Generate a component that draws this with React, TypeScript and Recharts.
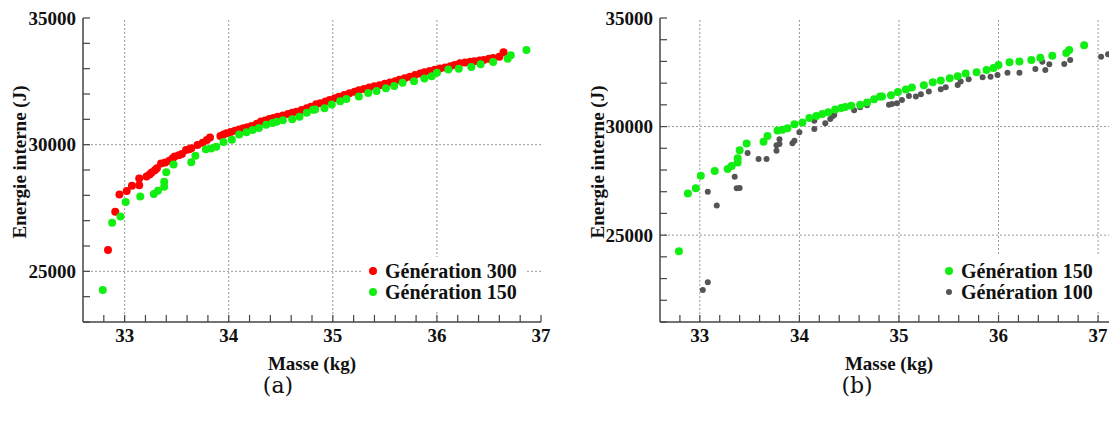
import React from 'react';
import { ScatterChart, Scatter, XAxis, YAxis, ReferenceLine, Legend } from 'recharts';

// Génération 300 (red, panel a)
const GEN300_MASS = [
  32.84, 32.91, 32.95, 33.02, 33.07, 33.14, 33.14, 33.21, 33.24, 33.26, 33.29, 33.31, 33.35, 33.39, 33.43,
  33.46, 33.48, 33.52, 33.55, 33.59, 33.62, 33.64, 33.7, 33.75, 33.79, 33.82, 33.92, 33.95, 33.98, 34.02,
  34.06, 34.1, 34.14, 34.18, 34.22, 34.27, 34.31, 34.35, 34.39, 34.43, 34.47, 34.52, 34.57, 34.61, 34.65,
  34.7, 34.75, 34.79, 34.84, 34.88, 34.93, 34.97, 35.02, 35.06, 35.11, 35.16, 35.21, 35.25, 35.3, 35.35,
  35.4, 35.45, 35.5, 35.55, 35.6, 35.64, 35.69, 35.74, 35.79, 35.84, 35.88, 35.93, 35.98, 36.03, 36.08,
  36.13, 36.17, 36.22, 36.27, 36.32, 36.36, 36.41, 36.45, 36.5, 36.54, 36.6, 36.64,
];
const GEN300_ENERGY = [
  25840, 27355, 28030, 28170, 28380, 28660, 28400, 28740, 28820, 28900, 28990, 29070, 29260, 29300, 29370,
  29450, 29530, 29580, 29630, 29790, 29820, 29860, 29990, 30080, 30180, 30280, 30340, 30400, 30450, 30500,
  30550, 30600, 30650, 30690, 30740, 30830, 30910, 30950, 31010, 31050, 31100, 31150, 31210, 31260, 31300,
  31370, 31440, 31500, 31600, 31630, 31700, 31760, 31830, 31890, 31960, 32030, 32090, 32150, 32200, 32260,
  32310, 32350, 32400, 32450, 32500, 32560, 32620, 32680, 32750, 32810, 32860, 32910, 32960, 33010, 33050,
  33100, 33140, 33210, 33240, 33270, 33290, 33320, 33340, 33390, 33420, 33470, 33650,
];

// Génération 150 (green, both panels)
const GEN150_MASS = [
  32.79, 32.88, 32.96, 33.01, 33.15, 33.28, 33.32, 33.38, 33.38, 33.4, 33.47, 33.64, 33.68, 33.78, 33.83,
  33.88, 33.95, 34.03, 34.1, 34.17, 34.23, 34.29, 34.36, 34.42, 34.46, 34.52, 34.61, 34.68, 34.75, 34.81,
  34.83, 34.92, 34.99, 35.07, 35.13, 35.25, 35.34, 35.42, 35.51, 35.59, 35.67, 35.78, 35.88, 35.95, 36.0,
  36.11, 36.21, 36.33, 36.42, 36.54, 36.68, 36.71, 36.86,
];
const GEN150_ENERGY = [
  24260, 26920, 27160, 27740, 27950, 28050, 28185, 28340, 28540, 28910, 29220, 29305, 29567, 29815, 29850,
  29920, 30110, 30190, 30400, 30490, 30580, 30660, 30790, 30860, 30900, 30960, 31000, 31105, 31260, 31380,
  31390, 31440, 31590, 31710, 31800, 31905, 32040, 32120, 32225, 32320, 32440, 32500, 32610, 32700, 32840,
  32965, 33000, 33070, 33170, 33260, 33390, 33530, 33740,
];

// Génération 100 (grey, panel b)
const GEN100_MASS = [
  33.03, 33.08, 33.08, 33.17, 33.35, 33.37, 33.4, 33.48, 33.59, 33.67, 33.77, 33.77, 33.8, 33.8, 33.93,
  33.95, 34.0, 34.15, 34.15, 34.26, 34.31, 34.33, 34.35, 34.55, 34.61, 34.68, 34.9, 34.93, 34.98, 35.03,
  35.1, 35.17, 35.22, 35.3, 35.42, 35.47, 35.59, 35.62, 35.7, 35.84, 35.92, 35.99, 36.09, 36.21, 36.37,
  36.44, 36.47, 36.51, 36.66, 36.72, 37.03, 37.1,
];
const GEN100_ENERGY = [
  22470, 22830, 27000, 26360, 27690, 27160, 27170, 28780, 28510, 28510, 28890, 29140, 29200, 29415, 29230,
  29350, 29740, 29890, 30270, 30150, 30350, 30460, 30535, 30750, 30890, 30980, 31000, 31040, 31075, 31225,
  31410, 31380, 31490, 31610, 31720, 31810, 31920, 32070, 32180, 32270, 32300, 32380, 32480, 32480, 32650,
  32990, 32610, 32870, 32880, 33070, 33220, 33330,
];

const MASS_LABELS = [33, 34, 35, 36, 37];
const MASS_TICKS_A = [32.8, 33, 33.2, 33.4, 33.6, 33.8, 34, 34.2, 34.4, 34.6, 34.8, 35, 35.2, 35.4, 35.6, 35.8, 36, 36.2, 36.4, 36.6, 36.8, 37];
const MASS_TICKS_B = [...MASS_TICKS_A, 37.2];
const ENERGY_LABELS = [25000, 30000, 35000];
const ENERGY_TICKS_A = [23000, 24000, 25000, 26000, 27000, 28000, 29000, 30000, 31000, 32000, 33000, 34000, 35000];
const ENERGY_TICKS_B = [21000, 22000, ...ENERGY_TICKS_A];
const GRID_MASS_A = [33, 34, 35, 36];
const GRID_MASS_B = [33, 34, 35, 36, 37];
const GRID_ENERGY = [25000, 30000];

const RED = '#ff0000';
const GREEN = '#11ee11';
const GREY = '#555555';
const AXIS = '#444';
const BOLD_SERIF: React.CSSProperties = { fontFamily: 'Liberation Serif, serif', fontWeight: 700 };

const toPoints = (m: number[], e: number[]) => m.map((v, i) => ({ m: v, e: e[i] }));

const hasLabel = (v: number, labels: number[]) => labels.some(l => Math.abs(l - v) < 1e-6);

const TICK_LEN = 7;

const bottomTick = (props: any) => {
  const { x, y, payload } = props;
  const v = payload.value;
  return (
    <g>
      <line x1={x} x2={x} y1={y} y2={y - TICK_LEN} stroke={AXIS} strokeWidth={1.2} />
      {hasLabel(v, MASS_LABELS) && (
        <text x={x} y={y + 20} textAnchor="middle" style={{ ...BOLD_SERIF, fontSize: 19 }} fill="#111">
          {Math.round(v)}
        </text>
      )}
    </g>
  );
};

const topTick = (props: any) => (
  <line x1={props.x} x2={props.x} y1={props.y} y2={props.y + TICK_LEN} stroke={AXIS} strokeWidth={1.2} />
);

const leftTick = (props: any) => {
  const { x, y, payload } = props;
  const v = payload.value;
  return (
    <g>
      <line x1={x} x2={x + TICK_LEN} y1={y} y2={y} stroke={AXIS} strokeWidth={1.2} />
      {hasLabel(v, ENERGY_LABELS) && (
        <text x={x - 7} y={y} dominantBaseline="central" textAnchor="end" style={{ ...BOLD_SERIF, fontSize: 19 }} fill="#111">
          {v}
        </text>
      )}
    </g>
  );
};

const rightTick = (props: any) => (
  <line x1={props.x} x2={props.x - TICK_LEN} y1={props.y} y2={props.y} stroke={AXIS} strokeWidth={1.2} />
);

interface SeriesDef {
  name: string;
  color: string;
  r: number;
  data: { m: number; e: number }[];
}

interface PanelProps {
  left: number;
  width: number;
  marginRight: number;
  yAxisWidth: number;
  yTitleX: number;
  xDomain: [number, number];
  xTicks: number[];
  yDomain: [number, number];
  yTicks: number[];
  vGrid: number[];
  series: SeriesDef[];
  legendOrder: number[];
  legendBox: { left: number; top: number; width: number; height: number; dotX: number; textX: number; rowY: number[] };
  caption: string;
  captionX: number;
}

const Panel: React.FC<PanelProps> = (p) => {
  const lb = p.legendBox;
  return (
    <div style={{ position: 'absolute', left: p.left, top: 0 }}>
      <ScatterChart width={p.width} height={424} margin={{ top: 18, right: p.marginRight, bottom: 0, left: 0 }}>
        <XAxis
          xAxisId="b"
          dataKey="m"
          type="number"
          domain={p.xDomain}
          ticks={p.xTicks}
          interval={0}
          allowDataOverflow
          height={102}
          tickSize={0}
          tickMargin={0}
          tickLine={false}
          axisLine={{ stroke: AXIS, strokeWidth: 1.5 }}
          tick={bottomTick}
          label={{
            content: (lp: any) => {
              const vb = lp.viewBox;
              const cx = vb.x + vb.width / 2;
              return (
                <g>
                  <text x={cx} y={370} textAnchor="middle" style={{ ...BOLD_SERIF, fontSize: 19 }} fill="#111">
                    Masse (kg)
                  </text>
                  <text x={p.captionX - p.left} y={393} textAnchor="middle" style={{ fontFamily: 'DejaVu Serif, serif', fontSize: 22 }} fill="#111">
                    {p.caption}
                  </text>
                </g>
              );
            },
          }}
        />
        <XAxis
          xAxisId="t"
          orientation="top"
          type="number"
          domain={p.xDomain}
          ticks={p.xTicks}
          interval={0}
          allowDataOverflow
          height={0}
          tickSize={0}
          tickMargin={0}
          tickLine={false}
          axisLine={{ stroke: AXIS, strokeWidth: 1.5 }}
          tick={topTick}
        />
        <YAxis
          yAxisId="l"
          dataKey="e"
          type="number"
          domain={p.yDomain}
          ticks={p.yTicks}
          interval={0}
          allowDataOverflow
          width={p.yAxisWidth}
          tickSize={0}
          tickMargin={0}
          tickLine={false}
          axisLine={{ stroke: AXIS, strokeWidth: 1.5 }}
          tick={leftTick}
          label={{
            content: (lp: any) => {
              const vb = lp.viewBox;
              const cy = vb.y + vb.height / 2 - 8;
              return (
                <text
                  x={p.yTitleX}
                  y={cy}
                  transform={`rotate(-90 ${p.yTitleX} ${cy})`}
                  textAnchor="middle"
                  dominantBaseline="central"
                  style={{ ...BOLD_SERIF, fontSize: 19 }}
                  fill="#111"
                >
                  Energie interne (J)
                </text>
              );
            },
          }}
        />
        <YAxis
          yAxisId="r"
          orientation="right"
          type="number"
          domain={p.yDomain}
          ticks={p.yTicks}
          interval={0}
          allowDataOverflow
          width={0}
          tickSize={0}
          tickMargin={0}
          tickLine={false}
          axisLine={{ stroke: AXIS, strokeWidth: 1.5 }}
          tick={rightTick}
        />
        {p.vGrid.map(v => (
          <ReferenceLine key={`v${v}`} x={v} xAxisId="b" yAxisId="l" stroke="#999" strokeDasharray="2 2" strokeWidth={1} />
        ))}
        {GRID_ENERGY.map(v => (
          <ReferenceLine key={`h${v}`} y={v} xAxisId="b" yAxisId="l" stroke="#999" strokeDasharray="2 2" strokeWidth={1} />
        ))}
        {p.series.map(s => (
          <Scatter
            key={s.name}
            name={s.name}
            data={s.data}
            xAxisId="b"
            yAxisId="l"
            isAnimationActive={false}
            shape={(sp: any) => <circle cx={sp.cx} cy={sp.cy} r={s.r} fill={s.color} />}
          />
        ))}
        <Legend
          layout="vertical"
          align="center"
          verticalAlign="middle"
          wrapperStyle={{ left: lb.left, top: lb.top, width: lb.width, height: lb.height, background: '#fff' }}
          content={() => (
            <svg width={lb.width} height={lb.height} style={{ display: 'block' }}>
              {p.legendOrder.map((idx, row) => {
                const s = p.series[idx];
                return (
                  <g key={s.name}>
                    <circle cx={lb.dotX} cy={lb.rowY[row]} r={s.r} fill={s.color} />
                    <text
                      x={lb.textX}
                      y={lb.rowY[row]}
                      dominantBaseline="central"
                      style={{ ...BOLD_SERIF, fontSize: 20 }}
                      fill="#111"
                    >
                      {s.name}
                    </text>
                  </g>
                );
              })}
            </svg>
          )}
        />
      </ScatterChart>
    </div>
  );
};

export default function App() {
  const gen300 = toPoints(GEN300_MASS, GEN300_ENERGY);
  const gen150 = toPoints(GEN150_MASS, GEN150_ENERGY);
  const gen100 = toPoints(GEN100_MASS, GEN100_ENERGY);

  return (
    <div style={{ position: 'absolute', left: 0, top: 0, width: 1109, height: 424, overflow: 'hidden', background: '#fff' }}>
      <Panel
        left={0}
        width={560}
        marginRight={19}
        yAxisWidth={83}
        yTitleX={19}
        xDomain={[32.6, 37]}
        xTicks={MASS_TICKS_A}
        yDomain={[23000, 35000]}
        yTicks={ENERGY_TICKS_A}
        vGrid={GRID_MASS_A}
        series={[
          { name: 'Génération 300', color: RED, r: 4, data: gen300 },
          { name: 'Génération 150', color: GREEN, r: 4, data: gen150 },
        ]}
        legendOrder={[0, 1]}
        legendBox={{ left: 362, top: 257, width: 165, height: 53, dotX: 11, textX: 23, rowY: [14, 35] }}
        caption="(a)"
        captionX={278}
      />
      <Panel
        left={560}
        width={600}
        marginRight={42}
        yAxisWidth={100}
        yTitleX={37}
        xDomain={[32.6, 37.2]}
        xTicks={MASS_TICKS_B}
        yDomain={[21000, 35000]}
        yTicks={ENERGY_TICKS_B}
        vGrid={GRID_MASS_B}
        series={[
          { name: 'Génération 100', color: GREY, r: 3, data: gen100 },
          { name: 'Génération 150', color: GREEN, r: 4, data: gen150 },
        ]}
        legendOrder={[1, 0]}
        legendBox={{ left: 380, top: 255, width: 160, height: 55, dotX: 9, textX: 21, rowY: [16, 37] }}
        caption="(b)"
        captionX={857}
      />
    </div>
  );
}
